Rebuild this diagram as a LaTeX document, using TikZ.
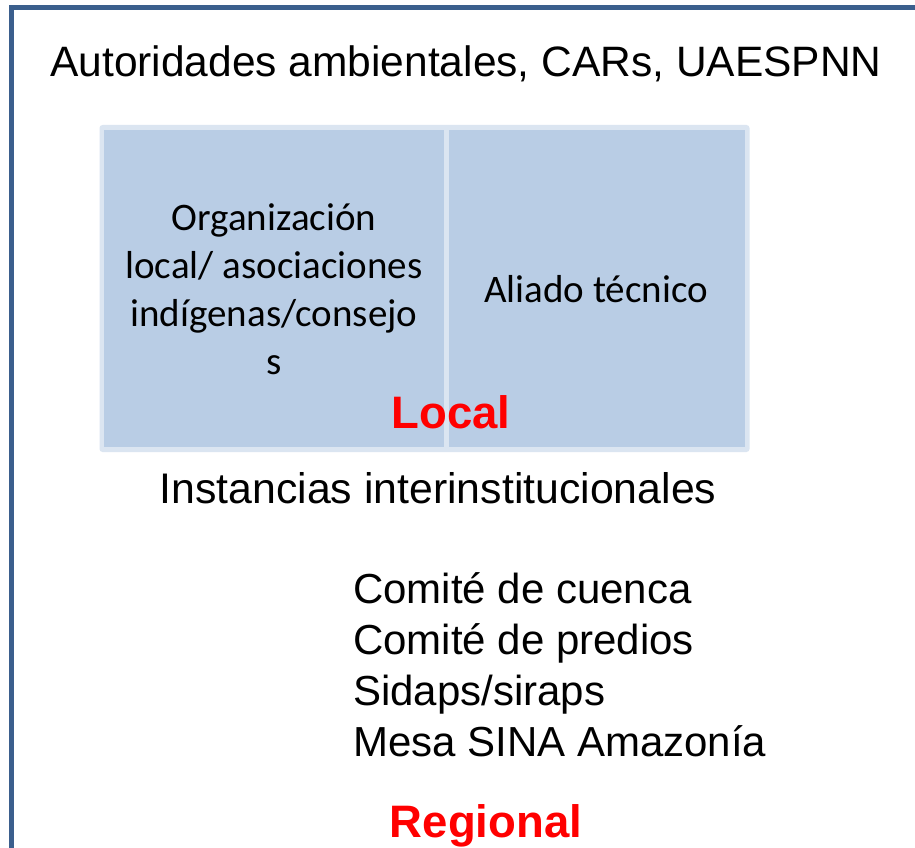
\documentclass[tikz,border=0pt]{standalone}
\usepackage{fontspec}
\setmainfont{Liberation Sans}
\newfontfamily\calib{Carlito}
\definecolor{framecol}{HTML}{3B5F8D}
\definecolor{boxedge}{HTML}{DBE5F1}
\definecolor{boxfill}{HTML}{B9CDE5}
\definecolor{labred}{HTML}{FF0000}
\tikzset{
  plain/.style={inner sep=0pt, anchor=base, font=\fontsize{42.5}{51}\selectfont},
  listitem/.style={inner sep=0pt, anchor=base west, font=\fontsize{42}{51}\selectfont},
  boxtext/.style={inner sep=0pt, align=center, font=\calib\fontsize{39}{48}\selectfont},
  level/.style={inner sep=0pt, anchor=base, text=labred, font=\bfseries\fontsize{45.5}{52}\selectfont},
  cell/.style={fill=boxfill, draw=none},
}
\begin{document}
\begin{tikzpicture}[x=1pt,y=-1pt]
\useasboundingbox (0,0) rectangle (915,848);
\clip (0,0) rectangle (915,848);
\fill[white] (0,0) rectangle (915,848);
% outer frame
\draw[framecol, line width=5pt] (11.5,8) rectangle (960,900);
% blue boxes
\fill[boxedge, rounded corners=3pt] (99.5,125) rectangle (749.5,452);
\path[cell] (104,130) rectangle (444,447);
\path[cell] (449,130) rectangle (744.5,447);
\node[boxtext, anchor=base] (org) at (274,374) {Organización\\local/ asociaciones\\indígenas/consejo\\s};
\node[boxtext, anchor=base] (aliado) at (596,302) {Aliado técnico};
% texts
\node[plain] (aut) at (466,77) {Autoridades ambientales, CARs, UAESPNN};
\node[level] (local) at (451,428) {Local};
\node[plain, font=\fontsize{42.8}{51}\selectfont] (inst) at (438,503) {Instancias interinstitucionales};
\node[listitem] (l1) at (353,603) {Comité de cuenca};
\node[listitem] (l2) at (353,654) {Comité de predios};
\node[listitem] (l3) at (353,705) {Sidaps/siraps};
\node[listitem] (l4) at (353,756) {Mesa SINA Amazonía};
\node[level] (reg) at (486,837) {Regional};
\end{tikzpicture}
\end{document}
